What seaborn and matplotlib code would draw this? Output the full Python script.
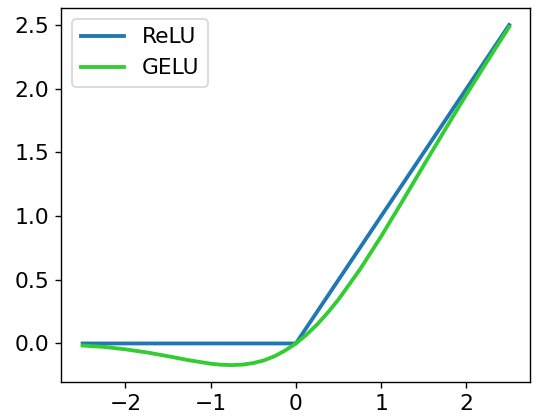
import numpy as np
import pandas as pd
import matplotlib
matplotlib.use("Agg")
import matplotlib.pyplot as plt
import seaborn as sns

# ── Data ────────────────────────────────────────────────
relu_x = [-2.5, 0.0, 2.5]
relu_y = [0.0, 0.0, 2.5]

gelu_x = [-2.5, -2.25, -2.0, -1.75, -1.5, -1.25, -1.0, -0.875, -0.75, -0.625,
          -0.5, -0.375, -0.25, -0.125, 0.0, 0.125, 0.25, 0.375, 0.5, 0.75,
          1.0, 1.25, 1.5, 1.75, 2.0, 2.25, 2.5]
gelu_y = [-0.016, -0.027, -0.046, -0.070, -0.100, -0.132, -0.159, -0.167, -0.170, -0.166,
          -0.154, -0.133, -0.100, -0.055, 0.0, 0.069, 0.150, 0.243, 0.346, 0.580,
          0.841, 1.118, 1.400, 1.680, 1.955, 2.222, 2.484]

RELU_COLOR = "#1f77b4"
GELU_COLOR = "#33cc33"
# ────────────────────────────────────────────────────────

plt.rcParams["font.size"] = 12.5

df = pd.concat([
    pd.DataFrame({"x": relu_x, "y": relu_y, "fn": "ReLU"}),
    pd.DataFrame({"x": gelu_x, "y": gelu_y, "fn": "GELU"}),
])

fig = plt.figure(figsize=(538 / 125, 419 / 125), dpi=125)
ax = fig.add_axes([0.114, 0.088, 0.872, 0.893])

sns.lineplot(data=df, x="x", y="y", hue="fn", sort=False,
             palette={"ReLU": RELU_COLOR, "GELU": GELU_COLOR},
             linewidth=2.2, ax=ax)

ax.set_xlabel("")
ax.set_ylabel("")
ax.set_xticks([-2, -1, 0, 1, 2])
ax.set_yticks([0.0, 0.5, 1.0, 1.5, 2.0, 2.5])
ax.tick_params(labelsize=12.5)
ax.legend(title=None, loc="upper left", fontsize=12.5)

fig.savefig("out.png", dpi=125)
